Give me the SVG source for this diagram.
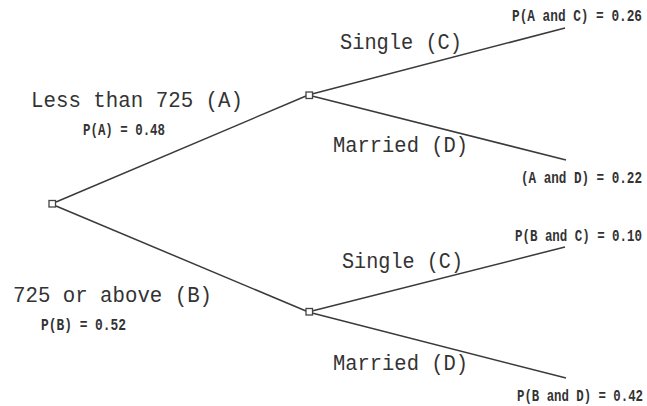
<svg xmlns="http://www.w3.org/2000/svg" width="647" height="406" viewBox="0 0 647 406">
<style>
.big{font-family:"Liberation Mono","Courier New",monospace;font-size:22px;fill:#333;}
.sm{font-family:"Liberation Mono","Courier New",monospace;font-size:12.6px;font-weight:bold;fill:#333;}
.edge{stroke:#3a3a3a;stroke-width:1.5;fill:none;}
.node{fill:#fff;stroke:#444;stroke-width:1.3;}
</style>
<rect width="647" height="406" fill="#fff"/>
<g id="connectors">
<line class="edge" x1="56" y1="202" x2="306" y2="96"/>
<line class="edge" x1="56" y1="206" x2="306" y2="311"/>
<line class="edge" x1="312" y1="94" x2="565" y2="28"/>
<line class="edge" x1="312" y1="96" x2="566" y2="160"/>
<line class="edge" x1="312" y1="311" x2="565" y2="247"/>
<line class="edge" x1="312" y1="313" x2="566" y2="378"/>
</g>
<g id="root"><rect class="node" x="49" y="200.5" width="6.5" height="6.5"/></g>
<g id="nodeA">
<rect class="node" x="306" y="92" width="6.5" height="6.5"/>
<text class="big" x="31" y="107" textLength="212" lengthAdjust="spacingAndGlyphs">Less than 725 (A)</text>
<text class="sm" transform="translate(83,135) scale(1,1.25)" textLength="82" lengthAdjust="spacingAndGlyphs">P(A) = 0.48</text>
</g>
<g id="nodeB">
<rect class="node" x="306" y="308.5" width="6.5" height="6.5"/>
<text class="big" x="13" y="302" textLength="199" lengthAdjust="spacingAndGlyphs">725 or above (B)</text>
<text class="sm" transform="translate(41,330) scale(1,1.25)" textLength="85" lengthAdjust="spacingAndGlyphs">P(B) = 0.52</text>
</g>
<g id="leafAC">
<text class="big" x="340" y="49" textLength="122" lengthAdjust="spacingAndGlyphs">Single (C)</text>
<text class="sm" transform="translate(512,21) scale(1,1.25)" textLength="130" lengthAdjust="spacingAndGlyphs">P(A and C) = 0.26</text>
</g>
<g id="leafAD">
<text class="big" x="333" y="152" textLength="135" lengthAdjust="spacingAndGlyphs">Married (D)</text>
<text class="sm" transform="translate(521,183) scale(1,1.25)" textLength="121" lengthAdjust="spacingAndGlyphs">(A and D) = 0.22</text>
</g>
<g id="leafBC">
<text class="big" x="342" y="268" textLength="121" lengthAdjust="spacingAndGlyphs">Single (C)</text>
<text class="sm" transform="translate(515,241) scale(1,1.25)" textLength="127" lengthAdjust="spacingAndGlyphs">P(B and C) = 0.10</text>
</g>
<g id="leafBD">
<text class="big" x="333" y="370" textLength="135" lengthAdjust="spacingAndGlyphs">Married (D)</text>
<text class="sm" transform="translate(517,401) scale(1,1.25)" textLength="126" lengthAdjust="spacingAndGlyphs">P(B and D) = 0.42</text>
</g>
</svg>
